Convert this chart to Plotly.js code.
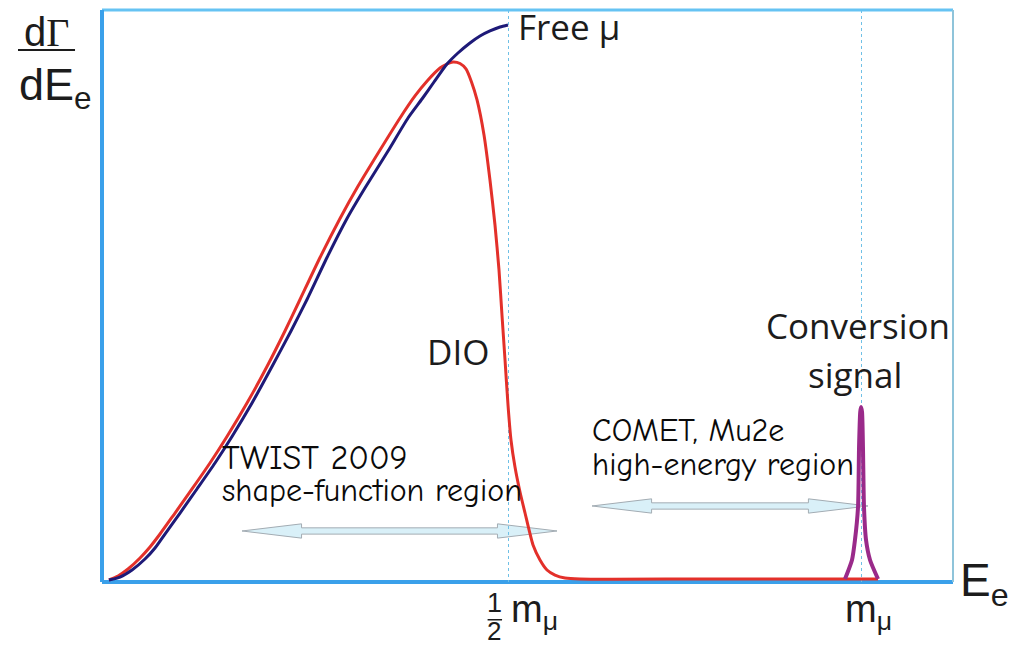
<!DOCTYPE html>
<html><head><meta charset="utf-8">
<script src="https://cdn.plot.ly/plotly-3.0.1.min.js"></script>
<style>html,body{margin:0;padding:0;background:#fff;} #chart{width:1015px;height:647px;}</style>
</head><body><div id="chart"></div>
<script>
// Schematic energy axis (arbitrary units) and rate axis (arbitrary units)
const freeX = [0.82, 2.12, 3.53, 5.05, 6.23, 7.40, 9.17, 11.16, 13.28, 15.28, 17.63, 19.98, 22.21, 24.09, 26.44, 28.79, 30.90, 33.61, 35.96, 37.60, 39.01, 40.54, 41.83, 43.24, 44.42, 45.59, 46.77, 47.71];
const freeY = [0.35, 0.87, 2.10, 4.02, 5.94, 8.39, 12.06, 16.26, 20.80, 25.44, 31.29, 37.67, 43.88, 49.39, 56.73, 63.55, 68.88, 75.35, 81.12, 84.44, 87.41, 90.56, 92.48, 94.23, 95.45, 96.33, 97.03, 97.38];

const dioX = [0.82, 1.88, 3.06, 4.47, 5.64, 6.82, 8.58, 10.58, 12.69, 14.69, 17.04, 19.39, 21.50, 23.27, 25.62, 27.97, 29.96, 32.67, 35.02, 36.78, 38.31, 39.72, 40.54, 41.24, 42.07, 42.77, 43.42, 44.07, 44.89, 45.59, 46.18, 46.65, 47.00, 47.36, 47.71, 48.06, 48.53, 49.12, 49.71, 50.65, 51.47, 52.29, 53.23, 54.41, 56.17, 70.27, 91.19];
const dioY = [0.35, 1.05, 2.27, 4.20, 6.12, 8.39, 12.06, 16.26, 20.80, 25.44, 31.29, 37.67, 43.88, 49.39, 56.73, 63.55, 68.88, 75.52, 81.12, 84.97, 87.76, 89.86, 90.56, 90.91, 90.65, 89.69, 87.41, 84.27, 78.15, 70.28, 62.41, 54.55, 46.68, 38.81, 30.94, 24.83, 20.10, 15.73, 12.06, 6.47, 3.85, 2.10, 1.22, 0.70, 0.52, 0.52, 0.52];

const signalX = [87.31, 88.13, 88.48, 88.84, 88.96, 89.10, 89.19, 89.31, 89.42, 89.54, 89.78, 90.25, 91.19];
const signalY = [0.52, 3.85, 7.34, 13.11, 23.60, 29.72, 30.59, 29.72, 23.60, 13.11, 7.34, 3.85, 0.52];

const tickVals = [47.71, 89.19];
const tickLabels = ['m<sub>μ</sub>', 'm<sub>μ</sub>'];
const tickFracTop = ['1', ''];
const tickFracBottom = ['2', ''];

const curveLabels = ['Free μ', 'DIO', 'Conversion', 'signal'];
const curveLabelX = [48.60, 38.00, 88.84, 88.48];
const curveLabelY = [97.20, 40.38, 44.93, 36.19];
const curveLabelAnchor = ['left', 'left', 'center', 'center'];

const regionLabels = ['TWIST 2009', 'shape-function region', 'COMET, Mu2e', 'high-energy region'];
const regionLabelX = [13.90, 13.90, 57.40, 57.40];
const regionLabelY = [21.68, 15.91, 26.40, 20.63];
const regionLabelSize = [34, 32, 32, 32];

const arrowStart = [16.45, 57.58];
const arrowEnd = [53.47, 90.01];
const arrowLevel = [8.92, 13.29];

// style constants
const HEAD_LEN = 7.0, HEAD_HALF = 1.25, SHAFT_HALF = 0.55;

function arrowPath(x1, x2, y) {
  const a = x1 + HEAD_LEN, b = x2 - HEAD_LEN;
  return `M${x1},${y} L${a},${y + HEAD_HALF} L${a},${y + SHAFT_HALF} L${b},${y + SHAFT_HALF} L${b},${y + HEAD_HALF} L${x2},${y} L${b},${y - HEAD_HALF} L${b},${y - SHAFT_HALF} L${a},${y - SHAFT_HALF} L${a},${y - HEAD_HALF} Z`;
}

const traces = [
  {x: dioX, y: dioY, type: 'scatter', mode: 'lines', line: {color: '#e3302a', width: 3, shape: 'spline', smoothing: 0.6}, hoverinfo: 'skip'},
  {x: freeX, y: freeY, type: 'scatter', mode: 'lines', line: {color: '#1e1a78', width: 3, shape: 'spline', smoothing: 0.6}, hoverinfo: 'skip'},
  {x: signalX, y: signalY, type: 'scatter', mode: 'lines', line: {color: '#9a2a8a', width: 4, shape: 'spline', smoothing: 0.6}, hoverinfo: 'skip'}
];

const textFont = {family: 'Open Sans, sans-serif', size: 35, color: '#1c1c1c'};
const comicFamily = 'Comic Sans MS, Comic Neue, DejaVu Sans, sans-serif';
const mathFamily = 'Liberation Sans, Arial, sans-serif';

const annotations = [];
curveLabels.forEach((t, i) => annotations.push({
  x: curveLabelX[i], y: curveLabelY[i], xref: 'x', yref: 'y', text: t, showarrow: false,
  xanchor: curveLabelAnchor[i], yanchor: 'middle', font: textFont
}));
regionLabels.forEach((t, i) => annotations.push({
  x: regionLabelX[i], y: regionLabelY[i], xref: 'x', yref: 'y', text: t, showarrow: false,
  xanchor: 'left', yanchor: 'middle', font: {family: comicFamily, size: regionLabelSize[i], color: '#0a0a0a'}
}));
tickVals.forEach((v, i) => {
  annotations.push({x: v, y: -0.052, xref: 'x', yref: 'paper', text: tickLabels[i], showarrow: false,
    xanchor: 'left', yanchor: 'middle', xshift: tickFracTop[i] ? 1 : -18, font: {family: mathFamily, size: 38, color: '#1c1c1c'}});
  if (tickFracTop[i]) {
    annotations.push({x: v, y: -0.036, xref: 'x', yref: 'paper', text: tickFracTop[i], showarrow: false,
      xanchor: 'center', yanchor: 'middle', xshift: -14, font: {family: mathFamily, size: 27, color: '#1c1c1c'}});
    annotations.push({x: v, y: -0.086, xref: 'x', yref: 'paper', text: tickFracBottom[i], showarrow: false,
      xanchor: 'center', yanchor: 'middle', xshift: -14, font: {family: mathFamily, size: 26, color: '#1c1c1c'}});
  }
});
// axis labels
annotations.push({x: -0.0658, y: 0.9615, xref: 'paper', yref: 'paper', text: 'd<span style="font-family:Liberation Serif, serif">Γ</span>', showarrow: false, xanchor: 'center', yanchor: 'middle', font: {family: mathFamily, size: 40, color: '#1c1c1c'}});
annotations.push({x: -0.1, y: 0.864, xref: 'paper', yref: 'paper', text: 'dE<sub>e</sub>', showarrow: false, xanchor: 'left', yanchor: 'middle', font: {family: mathFamily, size: 45, color: '#1c1c1c'}});
annotations.push({x: 1.006, y: -0.002, xref: 'paper', yref: 'paper', text: 'E<sub>e</sub>', showarrow: false, xanchor: 'left', yanchor: 'middle', font: {family: mathFamily, size: 46, color: '#1c1c1c'}});

const shapes = [];
arrowStart.forEach((x1, i) => shapes.push({
  type: 'path', xref: 'x', yref: 'y', path: arrowPath(x1, arrowEnd[i], arrowLevel[i]),
  fillcolor: '#d9f0f8', line: {color: '#a3acb3', width: 1}, layer: 'below'
}));
// fraction bars
shapes.push({type: 'line', xref: 'paper', yref: 'paper', x0: -0.0987, x1: -0.0317, y0: 0.930, y1: 0.930, line: {color: '#1c1c1c', width: 2}});
shapes.push({type: 'line', xref: 'x', yref: 'paper', x0: tickVals[0] - 2.4, x1: tickVals[0] - 0.7, y0: -0.066, y1: -0.066, line: {color: '#1c1c1c', width: 1.5}});
// frame
shapes.push({type: 'line', xref: 'paper', yref: 'paper', x0: 0, x1: 1, y0: 1, y1: 1, line: {color: '#66c3f3', width: 3}, layer: 'above'});
shapes.push({type: 'line', xref: 'paper', yref: 'paper', x0: 1, x1: 1, y0: 0, y1: 1, line: {color: '#8fc4da', width: 2}, layer: 'above'});
shapes.push({type: 'line', xref: 'paper', yref: 'paper', x0: 0, x1: 0, y0: 0, y1: 1, line: {color: '#3aa0ea', width: 4}, layer: 'above'});
shapes.push({type: 'line', xref: 'paper', yref: 'paper', x0: 0, x1: 1, y0: 0, y1: 0, line: {color: '#3aa0ea', width: 4}, layer: 'below'});

const layout = {
  width: 1015, height: 647,
  margin: {l: 102, r: 62, t: 10, b: 65},
  paper_bgcolor: '#fff', plot_bgcolor: '#fff',
  showlegend: false,
  xaxis: {range: [0, 100], tickvals: tickVals, showticklabels: false, ticks: '', showgrid: true,
    gridcolor: '#6fc0e6', griddash: 'dot', gridwidth: 1, zeroline: false, showline: false, fixedrange: true},
  yaxis: {range: [0, 100], showticklabels: false, ticks: '', showgrid: false, zeroline: false, showline: false, fixedrange: true},
  annotations: annotations,
  shapes: shapes
};

Plotly.newPlot('chart', traces, layout, {displayModeBar: false, staticPlot: true});
</script>
</body></html>
